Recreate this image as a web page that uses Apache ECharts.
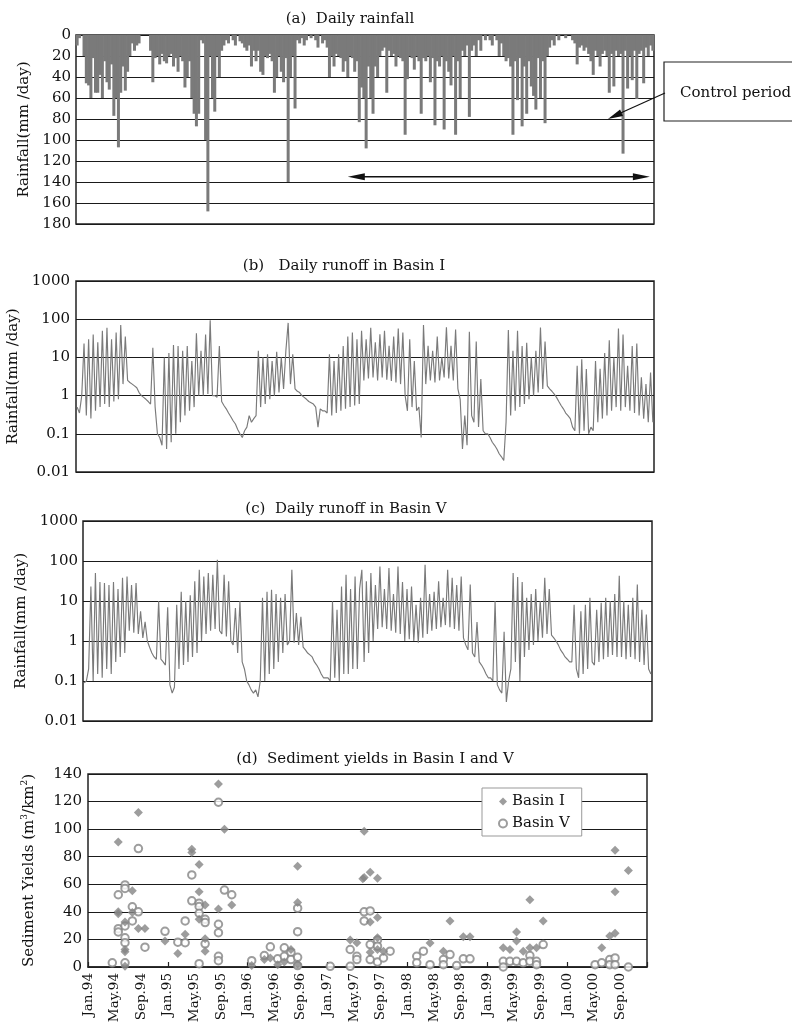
<!DOCTYPE html>
<html><head><meta charset="utf-8">
<script src="https://cdn.jsdelivr.net/npm/echarts/dist/echarts.min.js"></script>
<style>html,body{margin:0;padding:0;background:#fff}#c{width:792px;height:1026px}</style>
</head><body><div id="c"></div><script>
// ---- Panel (a): daily rainfall, one value per 10-day period (36 per year), mm/day
const rain1994 = [10,3,0,20,46,48,60,22,55,55,38,60,25,45,52,28,77,60,107,55,30,53,35,20,8,15,10,8,0,0,0,0,15,45,22,20];
const rain1995 = [28,18,25,27,20,18,30,22,35,20,25,50,40,25,60,75,87,75,5,8,100,168,20,60,73,20,40,15,10,5,8,0,5,10,0,6];
const rain1996 = [8,12,15,10,30,15,25,15,35,38,20,22,18,25,55,40,20,35,45,22,140,40,20,70,5,8,3,10,5,0,3,0,5,12,0,8];
const rain1997 = [5,12,40,20,30,18,20,22,35,25,40,20,22,35,25,83,50,60,108,30,60,75,30,40,20,15,12,55,15,20,18,30,20,22,25,95];
const rain1998 = [42,20,22,33,20,25,75,22,25,20,45,22,86,25,30,20,90,25,35,48,20,95,25,60,15,20,10,78,15,10,20,5,15,0,5,0];
const rain1999 = [5,10,0,5,20,8,20,25,22,30,95,25,62,22,87,30,75,25,49,58,71,22,60,25,84,20,12,5,10,0,5,0,0,3,0,0];
const rain2000 = [5,8,28,12,10,15,12,18,25,38,15,20,30,18,15,20,55,18,49,15,20,18,113,15,51,20,43,15,61,18,15,46,12,20,10,15];

// ---- Panel (b): daily runoff in Basin I (10-day samples)
const runI1994 = [0.5,0.35,1,23,0.3,30,0.25,40,0.4,25,0.5,50,0.6,60,0.5,30,0.7,45,0.8,70,2,35,2.5,2.2,2,1.8,1.6,1.2,1.0,0.9,0.8,0.7,0.6,18,0.5,0.1];
const runI1995 = [0.08,0.05,10,0.04,13,0.06,21,0.1,20,0.2,15,0.3,20,0.4,8,0.5,43,1,15,1,40,1.1,94,1,1.0,0.9,20,0.7,0.55,0.45,0.35,0.28,0.22,0.18,0.13,0.1];
const runI1996 = [0.08,0.12,0.15,0.3,0.2,0.25,0.3,15,0.5,10,0.6,12,0.8,8,1.0,14,1.2,10,1.5,15,80,2,12,1.5,1.3,1.2,1.0,0.9,0.8,0.7,0.65,0.6,0.5,0.15,0.45,0.4];
const runI1997 = [0.4,0.35,12,0.3,8,0.35,12,0.4,20,0.45,35,0.5,45,0.55,30,0.6,50,2.5,30,2.8,60,3,25,2.5,40,3.0,50,2.6,20,2.4,35,2.2,57,2.0,45,1.0];
const runI1998 = [0.4,30,0.5,8,0.4,0.5,0.08,70,2,20,2.5,15,2.2,35,2.5,10,3,61,2.8,20,2.5,54,1.5,0.8,0.04,0.3,0.05,47,0.3,0.2,26,0.15,2.7,0.12,0.1,0.1];
const runI1999 = [0.08,0.06,0.05,0.04,0.03,0.025,0.02,0.2,52,0.3,15,0.4,50,0.5,20,0.6,24,0.8,10,1,15,1.2,61,1.5,26,1.8,1.5,1.3,1.1,0.9,0.7,0.55,0.45,0.35,0.3,0.25];
const runI2000 = [0.15,0.12,6,0.1,9,0.12,5,0.1,0.15,0.12,8,0.2,5,0.25,13,0.3,28,0.4,10,0.5,57,0.4,40,0.5,6,0.4,20,0.35,23,0.3,3,0.25,2,0.2,4,0.2];

// ---- Panel (c): daily runoff in Basin V (10-day samples)
const runV1994 = [0.09,0.1,0.2,23,0.1,50,0.15,30,0.12,28,0.2,25,0.15,30,0.3,20,0.4,38,0.5,41,1.8,25,1.6,28,1.5,5.5,1.2,3,1.0,0.7,0.5,0.4,0.35,10,0.35,0.3];
const runV1995 = [0.25,7,0.08,0.05,0.07,8,0.2,17,0.25,10,0.3,14,0.4,31,0.5,60,1,41,1.5,50,1.8,45,2,108,1.8,1.5,45,1.3,31,1.0,0.8,6.7,0.5,10,0.3,0.2];
const runV1996 = [0.1,0.08,0.06,0.05,0.06,0.04,0.1,12,0.1,17,0.15,19,0.2,15,0.3,12,0.5,15,0.8,1.0,60,0.9,5,0.8,4,0.7,0.6,0.5,0.45,0.4,0.3,0.25,0.2,0.15,0.12,0.12];
const runV1997 = [0.12,0.1,9.8,0.12,6,0.1,23,0.15,45,0.15,20,0.2,41,0.2,20,60,0.3,31,0.5,50,1,25,2,73,2.2,20,2.0,67,1.8,15,1.6,73,1.5,30,1.0,20];
const runV1998 = [1.1,23,1.0,8,0.9,12,1.2,81,1.5,15,1.8,17,2,31,2.2,12,2.5,60,2.2,38,2,25,1.8,41,1.2,0.8,0.6,26,0.5,0.4,3,0.3,0.25,0.2,0.15,0.12];
const runV1999 = [0.12,0.1,10,0.08,0.06,0.05,1.7,0.03,0.1,0.2,50,0.3,40,0.1,30,0.4,12,0.6,15,0.8,20,1,10,1.2,38,1.5,20,1.4,1.2,1.0,0.8,0.6,0.5,0.4,0.35,0.3];
const runV2000 = [0.3,8,0.2,0.12,5.5,0.15,8,0.2,12,0.3,0.25,6,0.3,9,0.35,12,0.4,10,0.45,15,0.4,43,0.4,10,0.35,8,0.4,12,0.35,26,0.3,6,0.25,4.6,0.2,0.15];

// ---- Panel (d): sediment yields, [month since Jan.94, m3/km2]
const sedimentBasinI = [[4.55,90.7],[4.55,40],[4.55,38.6],[5.56,32.7],[5.56,12.7],[5.56,11],[5.56,0.5],[6.66,55.4],[6.66,39.5],
 [7.57,112],[7.57,28],[8.56,28],[11.57,18.8],[13.5,9.8],[14.6,23.7],[15.6,85.4],[15.6,83],[16.7,74.4],[16.7,54.6],[16.7,34.6],
 [17.6,45],[17.6,20.5],[17.6,11.5],[19.6,132.7],[19.6,42],[20.5,100],[21.6,44.9],[24.6,1],[26.5,5.4],[27.4,6.6],[28.5,1.7],
 [29.5,3.7],[30.5,12.7],[31.5,73],[31.5,46.8],[31.5,2],[39.4,19.5],[40.4,17.6],[41.5,98.5],[41.5,65],[41.3,64],
 [42.4,68.8],[42.4,32.7],[42.4,10.7],[43.5,64.4],[43.5,35.9],[43.5,21.2],[43.5,12.7],[44.4,11.5],[51.4,17.5],[53.4,11.5],
 [54.4,33.4],[56.4,22],[57.4,22],[62.4,14],[63.4,12.7],[64.4,25.4],[64.4,18.8],[65.4,11.5],[66.4,48.8],[66.4,14],[67.4,14],
 [68.4,33.4],[77.2,14],[78.4,22.4],[79.2,84.6],[79.2,54.6],[79.2,24.4],[81.2,70]];
const sedimentBasinV = [[3.65,3],[4.55,52.4],[4.55,27.8],[4.55,25.4],[5.56,59.5],[5.56,57],[5.56,29.8],[5.56,21.2],[5.56,17.6],[5.56,3],
 [6.66,43.7],[6.66,33.4],[7.57,85.9],[7.57,40],[8.56,14.4],[11.57,25.9],[13.5,18],[14.6,33.4],[14.6,17.6],[15.6,66.8],[15.6,48],
 [16.7,46.3],[16.7,43.9],[16.7,39],[16.7,2.4],[17.6,34.6],[17.6,32.2],[17.6,16.8],[19.6,119.5],[19.6,31],[19.6,24.9],[19.6,7.8],[19.6,4.6],
 [20.5,55.8],[21.6,52.4],[24.6,4.6],[26.5,8.3],[27.4,14.6],[28.5,5.9],[29.5,13.9],[29.5,7.8],[30.5,10.7],[30.5,5.4],
 [31.5,42.7],[31.5,25.6],[31.5,7],[31.5,1],[36.4,0.5],[39.4,12.7],[39.4,0.5],[40.4,7.8],[40.4,5.4],[41.5,40],[41.5,33.4],
 [42.4,40.7],[42.4,16.3],[42.4,5.4],[43.5,19.5],[43.5,15.1],[43.5,3.7],[44.4,6.6],[45.4,11.5],[49.4,7.8],[49.4,3],[50.4,11.5],
 [51.4,1.7],[53.4,5.4],[53.4,1.7],[54.4,9],[55.4,1],[56.4,5.9],[57.4,5.9],[62.4,4.1],[62.4,0],[63.4,4.1],[64.4,4.1],[65.4,3],
 [66.4,8.3],[66.4,4.1],[67.4,4.1],[67.4,1.7],[68.4,16.3],[76.2,1.7],[77.2,3],[78.4,5.4],[78.4,1.7],[79.2,6.6],[79.2,1.7],[81.2,0]];

const tickLabels = ['Jan.94','May.94','Sep.94','Jan.95','May.95','Sep.95','Jan.96','May.96','Sep.96','Jan.97','May.97','Sep.97',
 'Jan.98','May.98','Sep.98','Jan.99','May.99','Sep.99','Jan.00','May.00','Sep.00'];

// annotations (data coordinates of panel a)
const controlPeriod = [39.5, 83.4];
const controlLevel = 135;
const calloutTarget = [77.3, 80];

// ---- build series data (x in months since Jan.94, 3 samples per month)
function byDekad(years) {
  const out = [];
  years.forEach((arr, yi) => arr.forEach((v, d) => out.push([yi * 12 + (d + 0.5) / 3, v])));
  return out;
}
const rainData = byDekad([rain1994, rain1995, rain1996, rain1997, rain1998, rain1999, rain2000]);
const runIData = byDekad([runI1994, runI1995, runI1996, runI1997, runI1998, runI1999, runI2000]);
const runVData = byDekad([runV1994, runV1995, runV1996, runV1997, runV1998, runV1999, runV2000]);

const FONT = 'DejaVu Serif';
const INK = '#111';
const GRAY = '#7a7a7a';
const gridBase = { show: true, borderColor: '#222', borderWidth: 1.5, backgroundColor: 'transparent', outerBoundsMode: 'none' };
const split = { show: true, lineStyle: { color: '#1a1a1a', width: 1.2 } };
const hiddenX = (i) => ({ type: 'value', gridIndex: i, min: 0, max: 84, axisLine: { show: false }, axisTick: { show: false },
  axisLabel: { show: false }, splitLine: { show: false } });
const logFmt = (v) => String(parseFloat(Number(v).toPrecision(2)));
const nameStyle = { fontFamily: FONT, fontSize: 15, color: INK };

const chart = echarts.init(document.getElementById('c'), null, { renderer: 'canvas' });
const option = {
  animation: false,
  backgroundColor: '#fff',
  grid: [
    Object.assign({ left: 76, top: 35, width: 578, height: 189 }, gridBase),
    Object.assign({ left: 76, top: 281, width: 578, height: 191 }, gridBase),
    Object.assign({ left: 83, top: 521, width: 569, height: 200 }, gridBase),
    Object.assign({ left: 88, top: 774, width: 559, height: 193 }, gridBase)
  ],
  xAxis: [
    hiddenX(0), hiddenX(1), hiddenX(2),
    { type: 'value', gridIndex: 3, min: 0, max: 84, interval: 4,
      axisLine: { show: true, lineStyle: { color: '#222', width: 1.5 } }, axisTick: { show: false }, splitLine: { show: false },
      axisLabel: { rotate: 90, margin: 6, fontFamily: FONT, fontSize: 13.5, color: INK,
        formatter: (v) => tickLabels[Math.round(v / 4)] || '' } },
    { type: 'value', gridIndex: 3, min: 0, max: 84, interval: 12, position: 'bottom',
      axisLine: { show: false }, axisLabel: { show: false }, splitLine: { show: false },
      axisTick: { show: true, inside: true, length: 5, lineStyle: { color: '#222', width: 1.2 } } }
  ],
  yAxis: [
    { type: 'value', gridIndex: 0, inverse: true, min: 0, max: 180, interval: 20,
      axisLine: { show: false }, axisTick: { show: false }, splitLine: split,
      axisLabel: { fontFamily: FONT, fontSize: 15, color: INK, margin: 5 },
      name: 'Rainfall(mm /day)', nameLocation: 'middle', nameRotate: 90, nameGap: 42, nameTextStyle: nameStyle },
    { type: 'log', logBase: 10, gridIndex: 1, min: 0.01, max: 1000,
      axisLine: { show: false }, axisTick: { show: false }, splitLine: split, minorSplitLine: { show: false },
      axisLabel: { fontFamily: FONT, fontSize: 15, color: INK, margin: 6, formatter: logFmt },
      name: 'Rainfall(mm /day)', nameLocation: 'middle', nameRotate: 90, nameGap: 42, nameTextStyle: nameStyle },
    { type: 'log', logBase: 10, gridIndex: 2, min: 0.01, max: 1000,
      axisLine: { show: false }, axisTick: { show: false }, splitLine: split,
      axisLabel: { fontFamily: FONT, fontSize: 15, color: INK, margin: 5, formatter: logFmt },
      name: 'Rainfall(mm /day)', nameLocation: 'middle', nameRotate: 90, nameGap: 49, nameTextStyle: nameStyle },
    { type: 'value', gridIndex: 3, min: 0, max: 140, interval: 20,
      axisLine: { show: false }, axisTick: { show: false }, splitLine: split,
      axisLabel: { fontFamily: FONT, fontSize: 15, color: INK, margin: 6 },
      name: '{n|Sediment Yields (m}{s|3}{n|/km}{s|2}{n|)}', nameLocation: 'middle', nameRotate: 90, nameGap: 50,
      nameTextStyle: { fontFamily: FONT, fontSize: 15, color: INK,
        rich: { n: { fontFamily: FONT, fontSize: 15, color: INK, lineHeight: 18 },
                s: { fontFamily: FONT, fontSize: 9, color: INK, verticalAlign: 'top', lineHeight: 18 } } } }
  ],
  legend: {
    data: ['Basin I', 'Basin V'], orient: 'vertical', left: 482, top: 788,
    itemWidth: 8, itemHeight: 8, itemGap: 7, padding: [6, 12, 5, 16],
    backgroundColor: '#fff', borderColor: '#999', borderWidth: 1,
    textStyle: { fontFamily: FONT, fontSize: 15, color: INK }
  },
  series: [
    { type: 'bar', name: 'rain', xAxisIndex: 0, yAxisIndex: 0, data: rainData, barWidth: 3,
      itemStyle: { color: GRAY }, silent: true },
    { type: 'line', name: 'runoff I', xAxisIndex: 1, yAxisIndex: 1, data: runIData, showSymbol: false,
      lineStyle: { color: GRAY, width: 1.15 }, silent: true },
    { type: 'line', name: 'runoff V', xAxisIndex: 2, yAxisIndex: 2, data: runVData, showSymbol: false,
      lineStyle: { color: GRAY, width: 1.15 }, silent: true },
    { type: 'scatter', name: 'Basin I', xAxisIndex: 3, yAxisIndex: 3, data: sedimentBasinI, symbol: 'diamond',
      symbolSize: 9, itemStyle: { color: '#858585' }, clip: false, z: 4 },
    { type: 'scatter', name: 'Basin V', xAxisIndex: 3, yAxisIndex: 3, data: sedimentBasinV, symbol: 'emptyCircle',
      symbolSize: 7.5, itemStyle: { color: '#858585', borderWidth: 1.1 }, clip: false, z: 3 }
  ]
};
chart.setOption(option);

function head(tip, from, len, half) {
  const dx = from[0] - tip[0], dy = from[1] - tip[1];
  const L = Math.hypot(dx, dy), ux = dx / L, uy = dy / L;
  const bx = tip[0] + ux * len, by = tip[1] + uy * len;
  return [[tip[0], tip[1]], [bx - uy * half, by + ux * half], [bx + uy * half, by - ux * half]];
}
const a1 = chart.convertToPixel({ gridIndex: 0 }, [controlPeriod[0], controlLevel]);
const a2 = chart.convertToPixel({ gridIndex: 0 }, [controlPeriod[1], controlLevel]);
const tip = chart.convertToPixel({ gridIndex: 0 }, calloutTarget);
const boxAnchor = [665, 93];
const titleFont = '15px "' + FONT + '"';
const title = (text, x, y) => ({ type: 'text', x: x, y: y, z: 10,
  style: { text: text, font: titleFont, fill: INK, align: 'center', verticalAlign: 'middle' } });

chart.setOption({
  graphic: [
    title('(a)  Daily rainfall', 350, 19),
    title('(b)   Daily runoff in Basin I', 344, 266),
    title('(c)  Daily runoff in Basin V', 346, 509),
    title('(d)  Sediment yields in Basin I and V', 375, 759),
    { type: 'line', z: 10, shape: { x1: a1[0] + 8, y1: a1[1], x2: a2[0] - 8, y2: a2[1] }, style: { stroke: INK, lineWidth: 1.3 } },
    { type: 'polygon', z: 10, shape: { points: head(a1, a2, 17, 3.5) }, style: { fill: INK } },
    { type: 'polygon', z: 10, shape: { points: head(a2, a1, 17, 3.5) }, style: { fill: INK } },
    { type: 'rect', z: 10, shape: { x: 664, y: 62, width: 150, height: 59 }, style: { fill: '#fff', stroke: '#222', lineWidth: 1.2 } },
    { type: 'text', z: 11, x: 680, y: 93, style: { text: 'Control period', font: titleFont, fill: INK, verticalAlign: 'middle' } },
    { type: 'line', z: 10, shape: { x1: boxAnchor[0], y1: boxAnchor[1], x2: tip[0] + 6, y2: tip[1] - 3 }, style: { stroke: INK, lineWidth: 1.2 } },
    { type: 'polygon', z: 10, shape: { points: head(tip, boxAnchor, 15, 3.5) }, style: { fill: INK } }
  ]
});
</script></body></html>
